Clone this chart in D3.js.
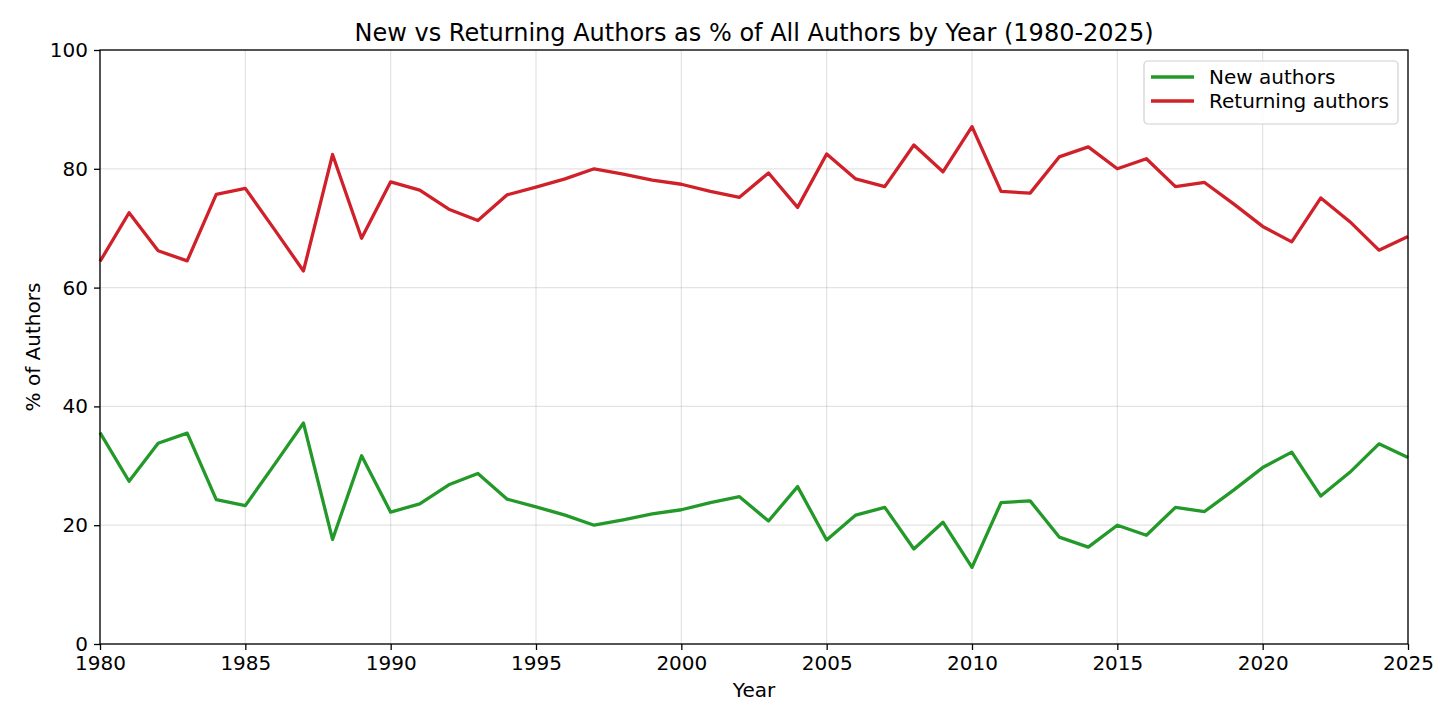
<!DOCTYPE html>
<html>
<head>
<meta charset="utf-8">
<script src="https://cdn.jsdelivr.net/npm/d3@7"></script>
<style>
  body { margin: 0; background: #fff; }
  svg { display: block; font-family: "DejaVu Sans", sans-serif; }
</style>
</head>
<body>
<svg id="chart" width="1456" height="728"></svg>
<script>
const years = d3.range(1980, 2026);
const newAuthors = [35.6, 27.4, 33.8, 35.5, 24.3, 23.3, 30.2, 37.2, 17.6, 31.7,
  22.2, 23.6, 26.8, 28.7, 24.4, 23.1, 21.7, 20.0, 20.9, 21.9,
  22.6, 23.8, 24.8, 20.7, 26.5, 17.5, 21.7, 23.0, 16.0, 20.5,
  12.9, 23.8, 24.1, 18.0, 16.3, 20.0, 18.3, 23.0, 22.3, 25.9,
  29.7, 32.3, 24.9, 28.9, 33.7, 31.4];
const returningAuthors = [64.4, 72.6, 66.2, 64.5, 75.7, 76.7, 69.8, 62.8, 82.4, 68.3,
  77.8, 76.4, 73.2, 71.3, 75.6, 76.9, 78.3, 80.0, 79.1, 78.1,
  77.4, 76.2, 75.2, 79.3, 73.5, 82.5, 78.3, 77.0, 84.0, 79.5,
  87.1, 76.2, 75.9, 82.0, 83.7, 80.0, 81.7, 77.0, 77.7, 74.1,
  70.3, 67.7, 75.1, 71.1, 66.3, 68.6];
const xTicks = [1980, 1985, 1990, 1995, 2000, 2005, 2010, 2015, 2020, 2025];
const yTicks = [0, 20, 40, 60, 80, 100];
const seriesNames = ["New authors", "Returning authors"];
const seriesColors = ["#23992a", "#d0202a"];

const svg = d3.select("#chart");
const L = 100, R = 1408, T = 50, B = 644;
const x = d3.scaleLinear().domain([1980, 2025]).range([L, R]);
const y = d3.scaleLinear().domain([0, 100]).range([B, T]);
const FS = "20px";

// grid
const grid = svg.append("g");
grid.selectAll(".gx").data(xTicks).enter().append("line")
  .attr("x1", d => x(d)).attr("x2", d => x(d)).attr("y1", T).attr("y2", B)
  .attr("stroke", "#b0b0b0").attr("stroke-opacity", 0.35).attr("stroke-width", 1.2);
grid.selectAll(".gy").data(yTicks).enter().append("line")
  .attr("x1", L).attr("x2", R).attr("y1", d => y(d)).attr("y2", d => y(d))
  .attr("stroke", "#b0b0b0").attr("stroke-opacity", 0.35).attr("stroke-width", 1.2);

// lines
const series = [newAuthors, returningAuthors];
const line = d3.line().x((d, i) => x(years[i])).y(d => y(d));
series.forEach((s, k) => {
  svg.append("path").datum(s)
    .attr("fill", "none").attr("stroke", seriesColors[k])
    .attr("stroke-width", 3.3).attr("stroke-linejoin", "round")
    .attr("d", line);
});

// axes
const xAxis = d3.axisBottom(x).tickValues(xTicks).tickFormat(d3.format("d")).tickSize(6).tickPadding(6);
const yAxis = d3.axisLeft(y).tickValues(yTicks).tickSize(6).tickPadding(6);
const gx = svg.append("g").attr("transform", `translate(0,${B})`).call(xAxis);
const gy = svg.append("g").attr("transform", `translate(${L},0)`).call(yAxis);
[gx, gy].forEach(g => {
  g.select(".domain").remove();
  g.selectAll("line").attr("stroke", "#000").attr("stroke-width", 1.3);
  g.selectAll("text").attr("font-size", FS).attr("fill", "#000")
    .attr("font-family", "DejaVu Sans, sans-serif");
});

// frame
svg.append("rect").attr("x", L).attr("y", T).attr("width", R - L).attr("height", B - T)
  .attr("fill", "none").attr("stroke", "#000").attr("stroke-width", 1.3);

// title & labels
svg.append("text").attr("x", (L + R) / 2).attr("y", 41).attr("text-anchor", "middle")
  .attr("font-size", "24px").text("New vs Returning Authors as % of All Authors by Year (1980-2025)");
svg.append("text").attr("x", (L + R) / 2).attr("y", 697).attr("text-anchor", "middle")
  .attr("font-size", FS).text("Year");
svg.append("text").attr("transform", `translate(40,${(T + B) / 2}) rotate(-90)`)
  .attr("text-anchor", "middle").attr("font-size", FS).text("% of Authors");

// legend
const lg = svg.append("g");
lg.append("rect").attr("x", 1144).attr("y", 61).attr("width", 254).attr("height", 63)
  .attr("rx", 4).attr("fill", "#fff").attr("fill-opacity", 0.8)
  .attr("stroke", "#d0d0d0").attr("stroke-width", 1.2);
seriesNames.forEach((n, i) => {
  const yy = 77 + i * 24;
  lg.append("line").attr("x1", 1151).attr("x2", 1194).attr("y1", yy).attr("y2", yy)
    .attr("stroke", seriesColors[i]).attr("stroke-width", 3.3);
  lg.append("text").attr("x", 1209).attr("y", yy + 7).attr("font-size", FS).text(n);
});
</script>
</body>
</html>
